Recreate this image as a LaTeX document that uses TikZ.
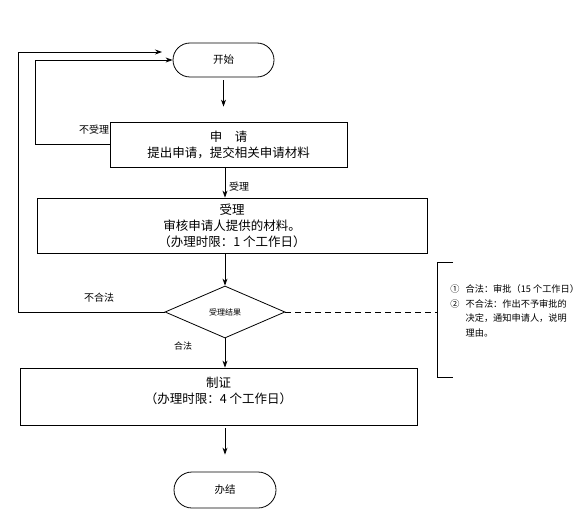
\documentclass[tikz,border=0pt]{standalone}
\usepackage{fontspec}
\setmainfont{Noto Sans CJK SC}
\usetikzlibrary{positioning, arrows.meta, calc, shapes.geometric}

\begin{document}
\begin{tikzpicture}[
    x=1pt, y=-1pt,          % 1単位 = 1pt（下向きが正）
    line width=0.8pt,
    >={Stealth[length=7pt, width=5pt]},
    % 開始・終了（角丸）のスタイル
    term_box/.style={draw, rectangle, rounded corners=17pt, inner sep=0pt,
        minimum width=101pt, minimum height=34pt, font=\fontsize{10.5}{12}\selectfont},
    % 処理ボックスのスタイル
    proc_box/.style={draw, rectangle, inner sep=0pt, align=center,
        font=\fontsize{12.5}{16}\selectfont},
    % 判断（菱形）のスタイル
    judge_box/.style={draw, diamond, inner sep=0pt, minimum width=120pt,
        minimum height=52pt, font=\fontsize{8}{10}\selectfont},
    % 線のラベル
    edge_label/.style={font=\fontsize{10}{12}\selectfont}
]
    \useasboundingbox (0,0) rectangle (583,532);

    % --- 1. 各ボックス ---
    \node [term_box] (start) at (223.5,60) {开始};
    \node [proc_box, minimum width=237pt, minimum height=45pt] (apply) at (228.5,144.5)
        {申\hspace{1em}请\\提出申请，提交相关申请材料};
    \node [proc_box, minimum width=390pt, minimum height=55pt] (accept) at (232,225.5)
        {受理\\审核申请人提供的材料。\\（办理时限：1 个工作日）};
    \node [judge_box] (decide) at (225,312) {受理结果};
    \node [proc_box, minimum width=397pt, minimum height=57pt, text depth=12pt] (certify) at (218.5,396.5)
        {制证\\（办理时限：4 个工作日）};
    \node [term_box, minimum width=102pt, minimum height=36pt, rounded corners=18pt] (finish) at (225,490) {办结};

    % --- 2. 縦の矢印 ---
    \draw [->, shorten <=3pt, shorten >=15pt] (start.south) -- (start.south |- apply.north);
    \draw [->] (decide |- apply.south) -- (decide |- accept.north);
    \draw [->] (decide |- accept.south) -- (decide.north);
    \draw [->] (decide.south) -- (decide |- certify.north);
    \draw [->, shorten <=3pt, shorten >=17pt] (decide |- certify.south) -- (finish.north);

    % --- 3. 戻りの線 ---
    % 不受理：申請へ戻る
    \draw [->] (apply.west) -| (35,60) -- (start.west);
    % 不合法：外側の線
    \coordinate (outer_end) at (162,52);
    \draw [->] (decide.west) -| (18,52) -- (outer_end);

    % --- 4. ラベル ---
    \node [edge_label] (lbl_reject) at (94,130) {不受理};
    \node [edge_label] (lbl_accept) at (239,187) {受理};
    \node [edge_label] (lbl_illegal) at (99,298) {不合法};
    \node [edge_label, font=\fontsize{9}{11}\selectfont] (lbl_legal) at (183,346) {合法};

    % --- 5. 右側の説明（括弧） ---
    \coordinate (brace_top) at (437,262);
    \coordinate (brace_bot) at (437,377);
    \draw [dash pattern=on 6pt off 4pt] (decide.east) -- (decide.east -| brace_top);
    \draw ($(brace_top)+(16,0)$) -- (brace_top) -- (brace_bot) -- ($(brace_bot)+(16,0)$);
    \node [anchor=north west, inner sep=0pt, font=\fontsize{9.2}{14.5}\selectfont] (note) at (450,282)
        {\begin{tabular}{@{}l@{\hspace{6pt}}l@{}}
            ① & 合法：审批（15 个工作日）\\
            ② & 不合法：作出不予审批的\\
              & 决定，通知申请人，说明\\
              & 理由。
        \end{tabular}};

\end{tikzpicture}
\end{document}
